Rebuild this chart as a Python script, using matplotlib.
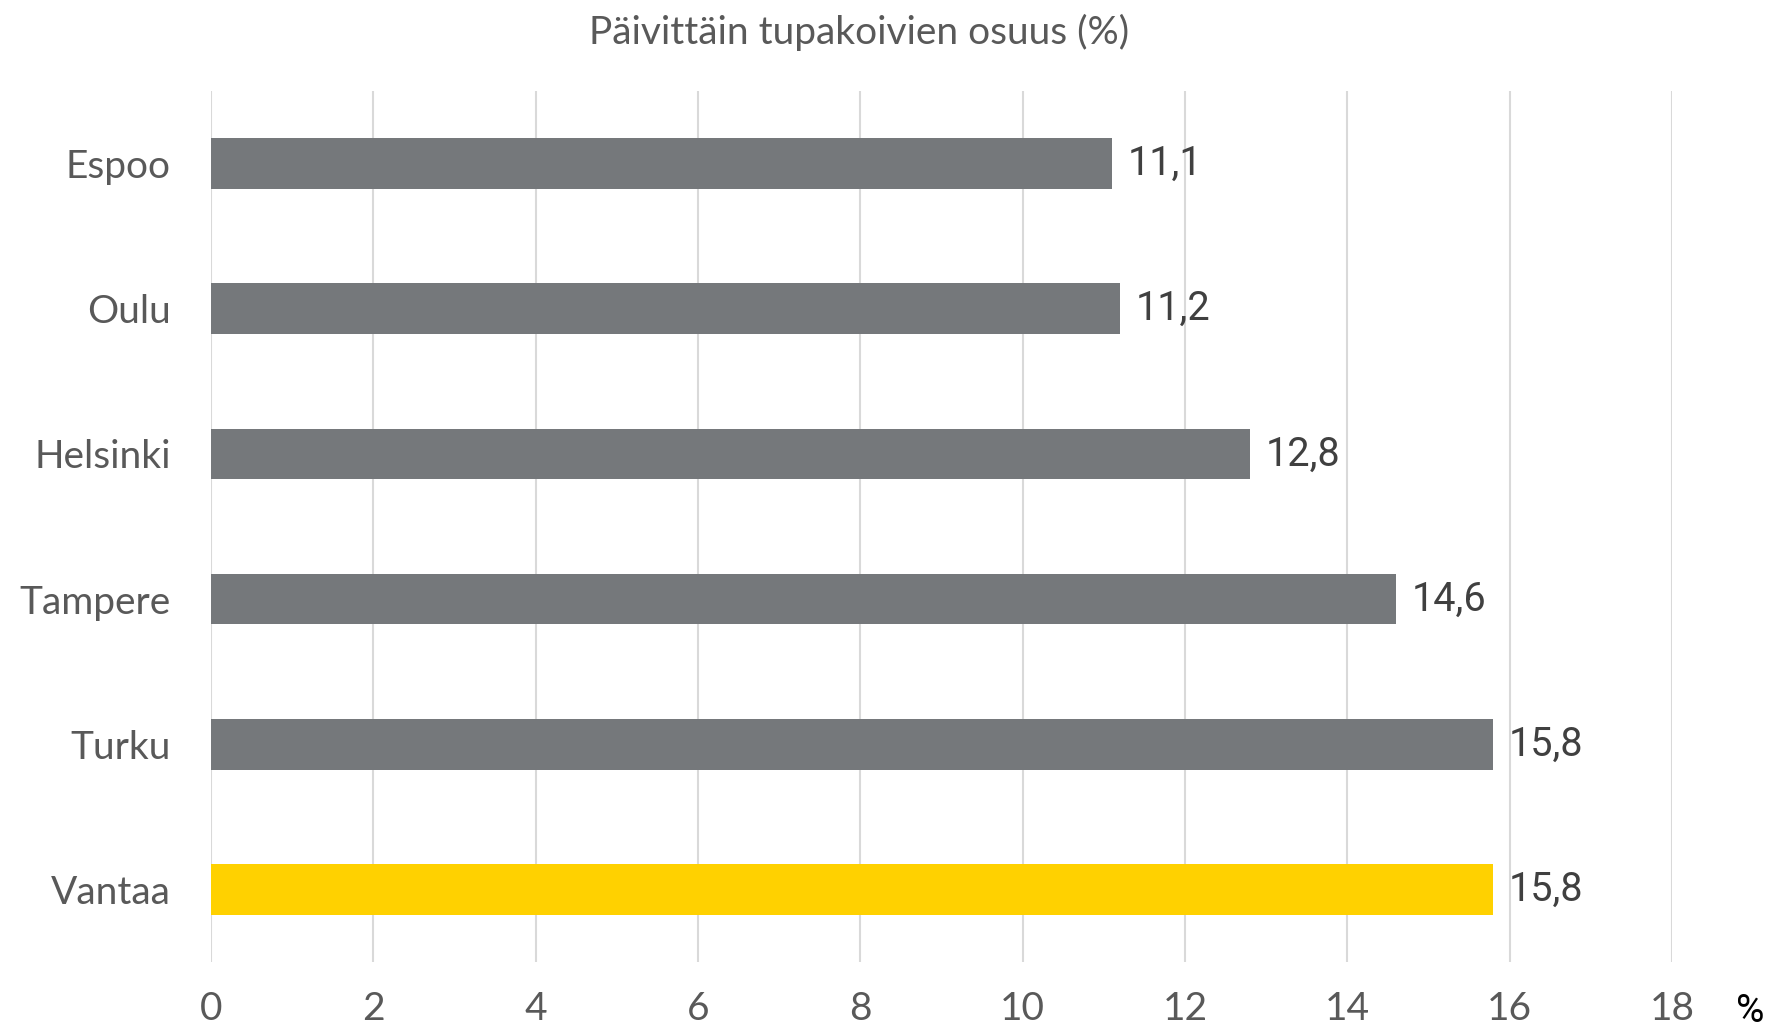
import matplotlib
matplotlib.use("Agg")
import matplotlib.pyplot as plt

categories = ["Espoo", "Oulu", "Helsinki", "Tampere", "Turku", "Vantaa"]
values = [11.1, 11.2, 12.8, 14.6, 15.8, 15.8]
value_labels = ["11,1", "11,2", "12,8", "14,6", "15,8", "15,8"]
colors = ["#75787B"] * 5 + ["#FFD100"]
xticks = [0, 2, 4, 6, 8, 10, 12, 14, 16, 18]
title = "Päivittäin tupakoivien osuus (%)"

W, H = 1771, 1032
fig = plt.figure(figsize=(W / 100, H / 100), dpi=100)
ax = fig.add_axes([211 / W, 1 - 962 / H, (1672 - 211) / W, (962 - 91) / H])

ypos = list(range(len(categories)))
ax.barh(ypos, values, height=0.35, color=colors, zorder=3)
ax.set_ylim(len(categories) - 0.5, -0.5)
ax.set_xlim(0, 18)
ax.set_xticks(xticks)
ax.set_xticklabels([str(t) for t in xticks])
ax.set_yticks(ypos)
ax.set_yticklabels(categories)
ax.grid(axis="x", color="#D9D9D9", linewidth=1.5, zorder=0)
for s in ax.spines.values():
    s.set_visible(False)
ax.tick_params(axis="both", length=0, labelcolor="#595959", labelsize=28)
ax.tick_params(axis="y", pad=29)
ax.tick_params(axis="x", pad=21)
for lab in ax.get_xticklabels() + ax.get_yticklabels():
    lab.set_family("Lato")

for y, v, t in zip(ypos, values, value_labels):
    ax.annotate(t, (v, y), xytext=(11, 0), textcoords="offset points",
                va="center", ha="left", fontsize=28.5, color="#404040",
                family="Roboto")

fig.text(859 / W, 1 - 32 / H, title, ha="center", va="center",
         fontsize=28, color="#595959", family="Lato")
fig.text(1750 / W, 1 - 1011 / H, "%", ha="center", va="center",
         fontsize=28, color="black", family="Roboto")

fig.savefig("out.png", dpi=100)
